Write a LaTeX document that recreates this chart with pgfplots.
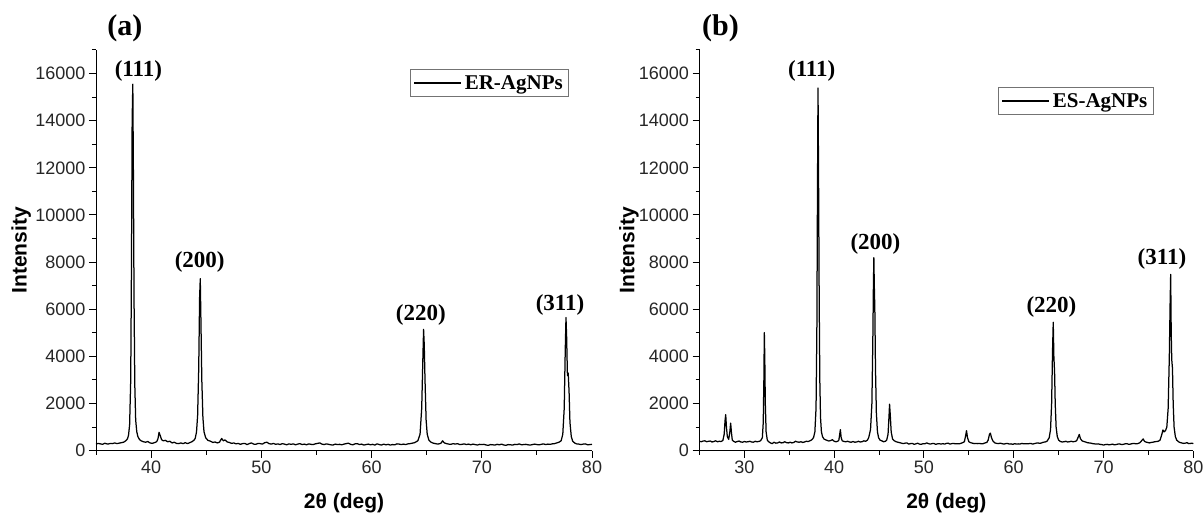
\documentclass[border=0pt]{standalone}
\usepackage{fontspec}
\setmainfont{Liberation Sans}
\newfontfamily\tnr{Liberation Serif}
\usepackage{pgfplots}
\pgfplotsset{compat=1.18}
\pgfplotstableread{
x y
35.0 280
35.2 310
35.4 290
35.6 270
35.8 320
35.9 300
36.1 280
36.3 310
36.5 300
36.7 330
36.9 300
37.1 320
37.3 340
37.5 360
37.7 420
37.85 500
37.95 650
38.05 1100
38.15 3000
38.22 8000
38.28 14000
38.34 15550
38.39 12000
38.45 6500
38.52 2800
38.6 1300
38.7 800
38.8 600
38.95 470
39.1 420
39.3 380
39.5 360
39.7 390
39.9 330
40.1 310
40.3 340
40.5 380
40.62 500
40.72 780
40.82 650
40.95 470
41.1 420
41.3 440
41.5 380
41.7 400
41.9 330
42.1 360
42.3 310
42.5 300
42.7 330
42.9 300
43.1 340
43.3 300
43.5 340
43.7 380
43.9 450
44.0 520
44.12 800
44.22 1500
44.32 3500
44.40 6500
44.46 7300
44.52 5500
44.6 3000
44.7 1400
44.8 800
44.95 550
45.15 440
45.4 400
45.6 350
45.8 370
46.0 330
46.2 360
46.4 520
46.55 420
46.7 460
46.9 370
47.1 350
47.3 310
47.5 330
47.7 290
47.9 310
48.1 270
48.3 300
48.5 310
48.7 260
48.9 300
49.1 330
49.3 280
49.5 270
49.7 310
49.9 300
50.1 280
50.3 340
50.5 360
50.7 300
50.9 280
51.1 310
51.3 270
51.5 290
51.7 260
51.9 300
52.1 280
52.3 250
52.5 290
52.7 270
52.9 290
53.1 250
53.3 280
53.5 300
53.7 260
53.9 280
54.1 250
54.3 290
54.5 270
54.7 260
54.9 290
55.1 310
55.3 330
55.5 280
55.7 260
55.9 290
56.1 270
56.3 250
56.5 240
56.7 280
56.9 260
57.1 270
57.3 250
57.5 280
57.7 300
57.9 320
58.1 270
58.3 250
58.5 290
58.7 300
58.9 260
59.1 280
59.3 240
59.5 260
59.7 280
59.9 250
60.1 270
60.3 240
60.5 290
60.7 260
60.9 240
61.1 280
61.3 250
61.5 270
61.7 240
61.9 260
62.1 250
62.3 290
62.5 280
62.7 260
62.9 280
63.1 260
63.3 290
63.5 300
63.7 320
63.9 340
64.05 380
64.2 420
64.4 700
64.55 1800
64.65 3800
64.72 5150
64.78 4500
64.85 3000
64.95 1300
65.05 700
65.2 450
65.4 360
65.6 320
65.8 300
66.0 280
66.2 300
66.3 320
66.45 420
66.6 330
66.8 300
67.0 280
67.2 270
67.4 300
67.6 280
67.8 300
68.0 260
68.2 270
68.4 290
68.6 260
68.8 280
69.0 250
69.2 280
69.4 260
69.6 240
69.8 270
70.0 260
70.2 270
70.4 240
70.6 230
70.8 260
71.0 250
71.2 240
71.4 270
71.6 250
71.8 280
72.0 240
72.2 230
72.4 260
72.6 250
72.8 240
73.0 270
73.2 260
73.4 290
73.6 250
73.8 260
74.0 270
74.2 250
74.4 240
74.6 260
74.8 280
75.0 260
75.2 250
75.4 270
75.6 290
75.8 260
76.0 280
76.2 270
76.4 290
76.6 300
76.8 330
77.0 360
77.2 420
77.35 700
77.48 1800
77.57 4200
77.64 5650
77.7 4800
77.77 3200
77.84 3300
77.92 2500
78.0 1200
78.12 600
78.25 400
78.45 320
78.6 290
78.8 280
79.0 260
79.2 280
79.4 290
79.6 250
79.8 260
80.0 270
}\erdata
\pgfplotstableread{
x y
25.0 400
25.2 380
25.4 410
25.6 420
25.8 380
26.0 400
26.2 410
26.4 370
26.6 390
26.8 420
27.0 380
27.2 400
27.4 390
27.6 430
27.75 700
27.85 1300
27.92 1530
28.0 1000
28.1 600
28.25 480
28.38 800
28.47 1170
28.55 800
28.65 450
28.8 400
29.0 360
29.2 390
29.4 410
29.6 370
29.8 360
30.0 390
30.2 370
30.4 380
30.6 400
30.8 370
31.0 360
31.2 400
31.4 380
31.6 390
31.8 420
32.0 550
32.1 1200
32.17 3000
32.22 5010
32.27 4000
32.33 2000
32.42 800
32.55 450
32.7 380
32.9 330
33.1 300
33.3 360
33.5 320
33.7 330
33.9 370
34.1 330
34.3 340
34.5 380
34.7 340
34.9 330
35.1 360
35.3 330
35.5 350
35.7 400
35.9 370
36.1 360
36.3 380
36.5 350
36.7 370
36.9 400
37.1 390
37.3 420
37.5 460
37.7 550
37.85 800
37.98 1800
38.07 5000
38.14 11000
38.2 15390
38.26 11700
38.33 6500
38.4 3000
38.48 1400
38.58 800
38.7 600
38.85 500
39.0 470
39.2 440
39.4 410
39.6 430
39.8 470
40.0 400
40.2 380
40.4 400
40.52 450
40.62 700
40.69 890
40.78 550
40.9 420
41.1 390
41.3 380
41.5 400
41.7 370
41.9 360
42.1 390
42.3 360
42.5 370
42.7 400
42.9 370
43.1 380
43.3 420
43.5 400
43.7 450
43.85 560
44.05 900
44.2 2000
44.3 4500
44.37 7000
44.42 8190
44.47 7000
44.53 5980
44.6 3500
44.7 1600
44.82 800
44.95 550
45.1 450
45.3 420
45.5 380
45.7 400
45.85 450
46.0 700
46.1 1400
46.17 1975
46.25 1500
46.35 800
46.5 500
46.7 420
46.9 380
47.1 360
47.3 340
47.5 320
47.7 300
47.9 320
48.1 330
48.3 280
48.5 300
48.7 310
48.9 270
49.1 290
49.3 320
49.5 280
49.7 270
49.9 300
50.1 290
50.3 330
50.5 300
50.7 280
50.9 300
51.1 310
51.3 270
51.5 290
51.7 300
51.9 280
52.1 300
52.3 280
52.5 310
52.7 320
52.9 280
53.1 300
53.3 310
53.5 290
53.7 300
53.9 290
54.1 310
54.3 340
54.5 380
54.65 650
54.74 850
54.85 550
55.0 380
55.2 340
55.4 320
55.6 300
55.8 310
56.0 300
56.2 310
56.4 290
56.6 300
56.8 330
57.0 350
57.15 450
57.3 700
57.4 745
57.52 550
57.7 400
57.9 330
58.1 310
58.3 300
58.5 320
58.7 300
58.9 280
59.1 300
59.3 310
59.5 280
59.7 290
59.9 270
60.1 300
60.3 280
60.5 290
60.7 280
60.9 310
61.1 290
61.3 300
61.5 290
61.7 300
61.9 310
62.1 280
62.3 300
62.5 320
62.7 330
62.9 310
63.1 330
63.3 360
63.5 370
63.7 400
63.95 550
64.1 900
64.22 2000
64.32 4200
64.4 5450
64.47 4000
64.55 3330
64.62 2000
64.72 1000
64.85 600
65.0 450
65.2 390
65.4 370
65.6 380
65.8 400
66.0 370
66.2 380
66.4 400
66.6 380
66.8 390
67.0 420
67.15 550
67.3 690
67.42 520
67.6 420
67.8 390
68.0 370
68.2 340
68.4 330
68.6 320
68.8 300
69.0 290
69.2 280
69.4 290
69.6 270
69.8 260
70.0 240
70.2 260
70.4 270
70.6 250
70.8 260
71.0 280
71.2 250
71.4 260
71.6 280
71.8 290
72.0 260
72.2 270
72.4 290
72.6 300
72.8 270
73.0 280
73.2 300
73.4 310
73.6 290
73.8 300
74.0 330
74.15 380
74.3 450
74.42 500
74.55 400
74.7 370
74.9 350
75.1 330
75.3 350
75.5 360
75.7 380
75.9 390
76.1 400
76.3 450
76.5 700
76.62 880
76.75 800
76.9 850
77.05 1000
77.2 1800
77.33 4000
77.42 6300
77.48 7480
77.54 5000
77.6 3860
77.68 3500
77.76 2000
77.86 1000
78.0 600
78.15 450
78.35 380
78.5 350
78.7 330
78.9 310
79.1 320
79.3 340
79.5 300
79.7 310
79.85 320
80.0 300
}\esdata
\begin{document}
\begin{tikzpicture}[x=1pt,y=1pt]
\useasboundingbox (0,0) rectangle (1203,515);
\pgfplotsset{
 xrdaxis/.style={
  scale only axis, height=400.7pt, ymin=0, ymax=17000, xmax=80,
  axis lines*=left, axis line style={line width=1pt},
  tick align=outside, major tick length=7pt, minor tick length=4pt,
  every tick/.style={black, line width=1pt},
  ytick={0,2000,...,16000}, minor ytick={1000,3000,...,17000},
  scaled y ticks=false,
  /pgf/number format/1000 sep={},
  /pgf/number format/assume math mode=true,
  tick label style={font=\fontsize{18}{18}\selectfont, text=black!85},
  label style={font=\fontsize{21}{21}\selectfont\bfseries},
  ylabel={Intensity}, xlabel={2θ (deg)},
  xlabel style={at={(axis description cs:0.5,-0.13)}, anchor=center},
  clip=false,
  legend style={draw=black!55, line width=0.8pt, fill=white,
    font=\tnr\bfseries\fontsize{21}{21}\selectfont, inner xsep=3pt, inner ysep=4pt,
    nodes={inner xsep=3pt}},
  legend cell align=left,
  legend image code/.code={\draw[##1, line width=1.2pt] (0pt,0pt) -- (47pt,0pt);},
 },
 xrdline/.style={black, line width=1.25pt, line join=round, no marks},
}
\begin{axis}[xrdaxis, at={(96pt,64.3pt)}, anchor=south west, width=496pt,
  xmin=35, xtick={40,50,...,80}, minor xtick={35,45,...,75},
  ylabel style={at={(axis description cs:-0.151,0.5)}, anchor=center},
  legend style={at={(0.954,0.953)}, anchor=north east}]
\addplot[xrdline] table[x=x,y=y] {\erdata};
\addlegendentry{ER-AgNPs}
\node[font=\tnr\bfseries\fontsize{23}{23}\selectfont] at (axis cs:38.85,16120) {(111)};
\node[font=\tnr\bfseries\fontsize{23}{23}\selectfont] at (axis cs:44.41,8010) {(200)};
\node[font=\tnr\bfseries\fontsize{23}{23}\selectfont] at (axis cs:64.47,5750) {(220)};
\node[font=\tnr\bfseries\fontsize{23}{23}\selectfont] at (axis cs:77.1,6170) {(311)};
\node[font=\tnr\bfseries\fontsize{30}{30}\selectfont] at (axis description cs:0.058,1.055) {(a)};
\end{axis}
\begin{axis}[xrdaxis, at={(699.5pt,64.3pt)}, anchor=south west, width=493.8pt,
  xmin=25, xtick={30,40,...,80}, minor xtick={25,35,...,75},
  ylabel style={at={(axis description cs:-0.143,0.5)}, anchor=center},
  legend style={at={(0.920,0.908)}, anchor=north east}]
\addplot[xrdline] table[x=x,y=y] {\esdata};
\addlegendentry{ES-AgNPs}
\node[font=\tnr\bfseries\fontsize{23}{23}\selectfont] at (axis cs:37.5,16100) {(111)};
\node[font=\tnr\bfseries\fontsize{23}{23}\selectfont] at (axis cs:44.6,8780) {(200)};
\node[font=\tnr\bfseries\fontsize{23}{23}\selectfont] at (axis cs:64.2,6100) {(220)};
\node[font=\tnr\bfseries\fontsize{23}{23}\selectfont] at (axis cs:76.5,8120) {(311)};
\node[font=\tnr\bfseries\fontsize{30}{30}\selectfont] at (axis description cs:0.0425,1.055) {(b)};
\end{axis}
\end{tikzpicture}
\end{document}
